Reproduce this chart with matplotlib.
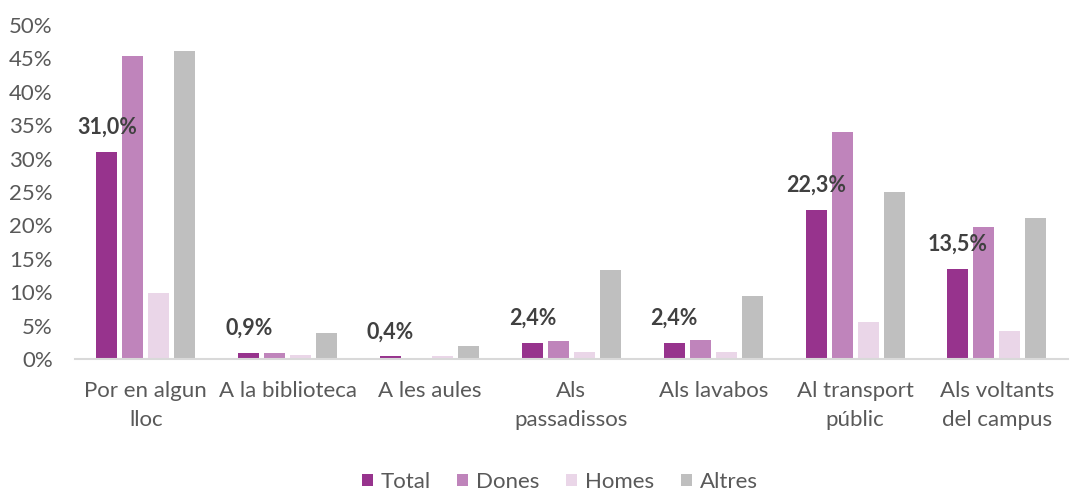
import matplotlib.pyplot as plt
import numpy as np

# data
categories = ["Por en algun\nlloc", "A la biblioteca", "A les aules", "Als\npassadissos",
              "Als lavabos", "Al transport\npúblic", "Als voltants\ndel campus"]
series_names = ["Total", "Dones", "Homes", "Altres"]
total = [31.0, 0.9, 0.4, 2.4, 2.4, 22.3, 13.5]
dones = [45.3, 0.9, 0.2, 2.7, 2.9, 33.9, 19.7]
homes = [9.9, 0.6, 0.45, 1.1, 1.1, 5.6, 4.2]
altres = [46.1, 3.9, 1.9, 13.4, 9.5, 25.0, 21.1]
total_labels = ["31,0%", "0,9%", "0,4%", "2,4%", "2,4%", "22,3%", "13,5%"]

colors = ["#97338d", "#bf84bb", "#ead6e8", "#bfbfbf"]

plt.rcParams['font.family'] = ['Lato', 'DejaVu Sans']

fig = plt.figure(figsize=(10.7, 4.98), dpi=100)
ax = fig.add_axes([0.070, 0.279, 0.928, 0.671])

x = np.arange(len(categories))
pitch = 0.183
width = 0.148
all_series = [total, dones, homes, altres]
for i, (vals, name) in enumerate(zip(all_series, series_names)):
    ax.bar(x + (i - 1.5) * pitch, vals, width, color=colors[i], label=name, zorder=2)

# bold labels above the Total bars
for xi, v, lab in zip(x, total, total_labels):
    ax.annotate(lab, (xi - 1.5 * pitch, v), xytext=(0, 10), textcoords="offset points",
                ha="center", va="bottom", fontsize=15.5, fontweight="bold", color="#404040")

ax.set_xlim(-0.5, len(categories) - 0.5)
ax.set_ylim(0, 50)
ax.set_yticks(np.arange(0, 51, 5))
ax.set_yticklabels([f"{t}%" for t in range(0, 51, 5)])
ax.set_xticks(x)
ax.set_xticklabels(categories, linespacing=1.55)

for s in ["top", "right", "left"]:
    ax.spines[s].set_visible(False)
ax.spines["bottom"].set_color("#d9d9d9")
ax.spines["bottom"].set_linewidth(1.5)
ax.tick_params(axis="both", length=0, labelsize=16, colors="#595959")
ax.tick_params(axis="x", pad=16)
ax.tick_params(axis="y", pad=16)

leg = fig.legend(loc="lower center", bbox_to_anchor=(0.523, -0.028), ncol=4, frameon=False,
                 fontsize=16, handlelength=0.5, handleheight=0.5, handletextpad=0.35,
                 columnspacing=1.2)
for t in leg.get_texts():
    t.set_color("#595959")

fig.savefig("out.png", dpi=100)
